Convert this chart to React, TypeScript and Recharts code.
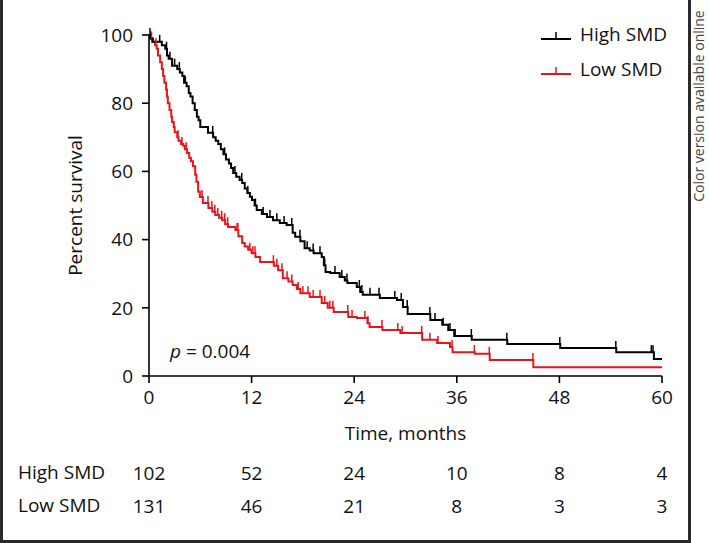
import { ComposedChart, Line, Scatter, XAxis, YAxis, Legend, Label } from "recharts";

const FONT = "'Open Sans', 'Noto Sans', sans-serif";
const HIGH_COLOR = "#000000";
const LOW_COLOR = "#e8141c";

// months at which the risk table is read
const riskTimes = [0, 12, 24, 36, 48, 60];
const highAtRisk = [102, 52, 24, 10, 8, 4];
const lowAtRisk = [131, 46, 21, 8, 3, 3];
const yTicks = [0, 20, 40, 60, 80, 100];

// [month, percent surviving] at each drop of the curve
const highSteps = [
  [0, 100], [0.2, 99], [0.45, 98], [1.5, 97], [1.9, 96], [2.1, 94], [2.3, 93],
  [2.7, 91], [3.3, 90], [3.6, 89], [3.9, 88], [4.1, 86], [4.4, 85], [4.65, 83],
  [4.85, 82], [5.1, 80], [5.35, 78], [5.6, 76], [5.8, 75], [6.0, 73], [6.9, 71.3],
  [7.5, 70], [7.8, 69], [8.1, 68], [8.4, 66.5], [8.7, 65], [9.0, 63.5], [9.35, 62.3],
  [9.6, 61], [9.85, 59.5], [10.2, 58.4], [10.6, 57.5], [10.9, 56.6], [11.2, 55],
  [11.5, 53.7], [11.8, 52.6], [12.05, 51.6], [12.35, 50], [12.6, 48.7], [13.2, 47.5],
  [13.8, 46.6], [14.5, 45.7], [15.3, 44.9], [16.1, 44.3], [16.8, 42], [17.1, 40.8],
  [17.7, 39.5], [18.2, 37.5], [18.8, 36.8], [19.25, 36], [20.2, 34.9], [20.45, 32.5],
  [20.65, 30.5], [21.2, 30.2], [22.3, 29], [22.9, 28], [23.2, 27.3], [24.3, 26.1],
  [24.7, 24.6], [25.0, 23.8], [27.0, 22.9], [29.0, 22.3], [29.7, 20.2], [30.25, 18.2],
  [32.9, 16.4], [34.3, 15], [35.0, 13.5], [35.7, 11.7], [37.75, 10.6], [41.9, 9.4],
  [48.1, 8.2], [54.65, 7.0], [59.05, 5.0], [60, 5.0],
];

const lowSteps = [
  [0, 100], [0.1, 99], [0.35, 98], [0.7, 97], [0.9, 96], [1.05, 94], [1.3, 92],
  [1.5, 90], [1.65, 88], [1.8, 86], [2.0, 84], [2.1, 82], [2.2, 80], [2.4, 78],
  [2.6, 76], [2.7, 74.5], [2.9, 73], [3.0, 71.5], [3.3, 70], [3.45, 69], [3.75, 68],
  [4.0, 67.5], [4.2, 66.5], [4.45, 65.4], [4.7, 64], [4.9, 63], [5.15, 61.5],
  [5.4, 59], [5.55, 57], [5.75, 54], [5.95, 52.5], [6.3, 50.7], [6.95, 49.3],
  [7.4, 48.2], [7.75, 47.2], [8.2, 46.4], [8.55, 45.7], [8.9, 44.5], [9.25, 43.7],
  [10.1, 42.8], [10.45, 41], [10.9, 39], [11.2, 38], [11.6, 37], [12.0, 36],
  [12.45, 34.9], [13.0, 33.4], [14.6, 32.3], [15.1, 31], [15.65, 28.7], [16.3, 27.7],
  [16.8, 26.7], [17.3, 25.5], [17.7, 24.3], [18.8, 23.2], [20.2, 21.4], [20.9, 20],
  [21.6, 18.8], [23.3, 17.3], [24.3, 17], [25.55, 15.5], [25.8, 14.4], [27.3, 13.5],
  [29.4, 12.6], [31.95, 10.6], [33.7, 9.7], [35.2, 8.5], [35.5, 7.0], [38.1, 6.5],
  [39.85, 4.7], [44.95, 2.6], [60, 2.6],
];

// censored patients (months)
const highCensored = [
  0.12, 1.25, 2.05, 2.45, 3.0, 3.55, 4.25, 7.45, 8.85, 10.05, 10.85, 11.55, 12.45,
  13.35, 14.15, 14.95, 15.8, 16.7, 17.65, 18.5, 19.2, 20.0, 20.55, 21.75, 22.55,
  23.15, 24.6, 24.9, 25.85, 26.9, 28.75, 29.5, 30.2, 32.85, 33.45, 34.4, 35.2, 35.8,
  37.7, 41.85, 48.05, 54.6, 58.75, 58.95,
];

const lowCensored = [
  0.3, 0.8, 3.4, 3.85, 4.35, 6.2, 6.9, 7.35, 7.7, 8.05, 8.5, 8.85, 9.2, 10.3, 10.4,
  11.8, 12.15, 12.4, 14.55, 14.95, 15.55, 16.15, 16.7, 17.45, 18.0, 18.6, 19.2, 20.0,
  20.55, 21.15, 21.5, 23.25, 23.75, 25.25, 25.6, 27.25, 29.1, 29.6, 31.9, 32.85, 33.8,
  35.45, 38.05, 39.8, 44.9,
];

// survival level of a step curve at a given month
function levelAt(steps: number[][], t: number) {
  let s = steps[0][1];
  for (const [st, sv] of steps) {
    if (st <= t) s = sv;
  }
  return s;
}

const toPoints = (steps: number[][]) => steps.map(([t, s]) => ({ t, s }));
const toCensor = (steps: number[][], times: number[]) =>
  times.map((t) => ({ t, s: levelAt(steps, t) }));
// anchor points so the risk-table axes have something to scale
const riskAnchors = riskTimes.map((t) => ({ t, s: 0 }));

const censorTick = (color: string) => (props: any) => {
  const { cx, cy } = props;
  return <line x1={cx} x2={cx} y1={cy} y2={cy - 7} stroke={color} strokeWidth={1.5} />;
};
const noShape = () => <g />;

function KmLegend() {
  const rows = [
    { name: "High SMD", color: HIGH_COLOR },
    { name: "Low SMD", color: LOW_COLOR },
  ];
  return (
    <div style={{ width: 150, fontFamily: FONT }}>
      {rows.map((r) => (
        <div key={r.name} style={{ display: "flex", alignItems: "center", height: 35 }}>
          <svg width={30} height={35}>
            <line x1={0} x2={30} y1={22} y2={22} stroke={r.color} strokeWidth={2} />
            <line x1={15} x2={15} y1={15} y2={22} stroke={r.color} strokeWidth={1.5} />
          </svg>
          <span style={{ marginLeft: 9, fontSize: 19, lineHeight: "35px", color: "#111" }}>
            {r.name}
          </span>
        </div>
      ))}
    </div>
  );
}

const tickStyle = { fill: "#111", fontSize: 19, fontFamily: FONT };
const axisStroke = { stroke: "#000", strokeWidth: 1.6 };

export default function App() {
  return (
    <div
      style={{
        position: "absolute",
        left: 0,
        top: 0,
        width: 709,
        height: 543,
        background: "#fff",
        fontFamily: FONT,
        overflow: "hidden",
      }}
    >
      <div
        style={{
          position: "absolute",
          left: 0,
          top: -4,
          width: 691,
          height: 547,
          border: "3px solid #2a2a2a",
          boxSizing: "border-box",
        }}
      />
      <ComposedChart width={709} height={543} margin={{ top: 35, right: 47, bottom: 21, left: 0 }}>
        <XAxis
          dataKey="t"
          type="number"
          domain={[0, 60]}
          allowDataOverflow
          ticks={riskTimes}
          interval={0}
          height={80}
          tickSize={7}
          tickMargin={8}
          axisLine={axisStroke}
          tickLine={axisStroke}
          tick={tickStyle}
        >
          <Label
            value="Time, months"
            position="insideBottom"
            offset={16}
            style={{ fontSize: 19, fill: "#111", fontFamily: FONT }}
          />
        </XAxis>
        <XAxis
          xAxisId="high"
          dataKey="t"
          type="number"
          domain={[0, 60]}
          allowDataOverflow
          ticks={riskTimes}
          interval={0}
          height={33}
          axisLine={false}
          tickLine={false}
          tickSize={0}
          tickMargin={10.5}
          tick={tickStyle}
          tickFormatter={(v: number) => String(highAtRisk[riskTimes.indexOf(v)])}
        >
          <Label
            value="High SMD"
            position="insideLeft"
            offset={-131}
            style={{ fontSize: 19, fill: "#111", fontFamily: FONT }}
          />
        </XAxis>
        <XAxis
          xAxisId="low"
          dataKey="t"
          type="number"
          domain={[0, 60]}
          allowDataOverflow
          ticks={riskTimes}
          interval={0}
          height={33}
          axisLine={false}
          tickLine={false}
          tickSize={0}
          tickMargin={10.5}
          tick={tickStyle}
          tickFormatter={(v: number) => String(lowAtRisk[riskTimes.indexOf(v)])}
        >
          <Label
            value="Low SMD"
            position="insideLeft"
            offset={-131}
            style={{ fontSize: 19, fill: "#111", fontFamily: FONT }}
          />
        </XAxis>
        <YAxis
          dataKey="s"
          type="number"
          domain={[0, 100]}
          ticks={yTicks}
          interval={0}
          width={149}
          tickSize={7}
          tickMargin={9}
          axisLine={axisStroke}
          tickLine={axisStroke}
          tick={tickStyle}
        >
          <Label
            value="Percent survival"
            angle={-90}
            position="insideLeft"
            offset={75}
            style={{ fontSize: 19, fill: "#111", fontFamily: FONT, textAnchor: "middle" }}
          />
        </YAxis>
        <Legend
          layout="vertical"
          align="center"
          verticalAlign="middle"
          content={() => <KmLegend />}
          wrapperStyle={{ left: 541, top: 17, width: 150 }}
        />
        <Line
          data={toPoints(lowSteps)}
          dataKey="s"
          type="stepAfter"
          stroke={LOW_COLOR}
          strokeWidth={2}
          dot={false}
          activeDot={false}
          isAnimationActive={false}
          name="Low SMD"
        />
        <Line
          data={toPoints(highSteps)}
          dataKey="s"
          type="stepAfter"
          stroke={HIGH_COLOR}
          strokeWidth={2}
          dot={false}
          activeDot={false}
          isAnimationActive={false}
          name="High SMD"
        />
        <Scatter
          data={toCensor(lowSteps, lowCensored)}
          dataKey="s"
          shape={censorTick(LOW_COLOR)}
          isAnimationActive={false}
          legendType="none"
        />
        <Scatter
          data={toCensor(highSteps, highCensored)}
          dataKey="s"
          shape={censorTick(HIGH_COLOR)}
          isAnimationActive={false}
          legendType="none"
        />
        <Scatter
          xAxisId="high"
          data={riskAnchors}
          dataKey="s"
          shape={noShape}
          isAnimationActive={false}
          legendType="none"
        />
        <Scatter
          xAxisId="low"
          data={riskAnchors}
          dataKey="s"
          shape={noShape}
          isAnimationActive={false}
          legendType="none"
        />
      </ComposedChart>
      <div
        style={{
          position: "absolute",
          left: 170,
          top: 342,
          fontSize: 19,
          lineHeight: "19px",
          color: "#111",
          whiteSpace: "nowrap",
        }}
      >
        <i>p</i> = 0.004
      </div>
      <div
        style={{
          position: "absolute",
          left: 699 - 110,
          top: 106 - 10,
          width: 220,
          height: 20,
          lineHeight: "20px",
          fontSize: 14,
          color: "#444",
          textAlign: "center",
          whiteSpace: "nowrap",
          transform: "rotate(-90deg)",
        }}
      >
        Color version available online
      </div>
    </div>
  );
}
